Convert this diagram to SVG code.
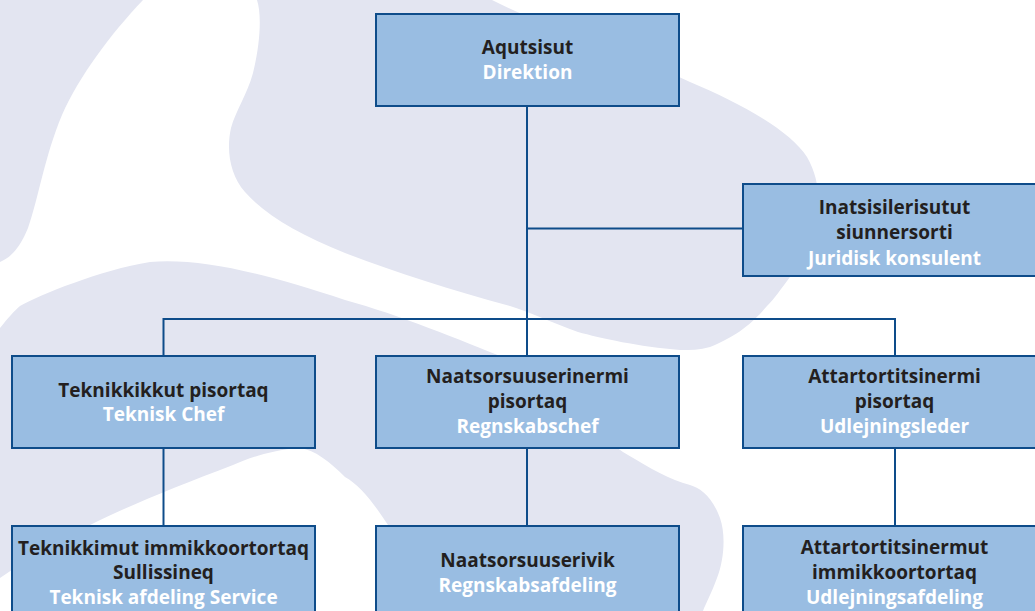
<svg xmlns="http://www.w3.org/2000/svg" width="1035" height="611" viewBox="0 0 1035 611">
<style>
.bg{fill:#e3e5f1;stroke:none}
.box{fill:#99bde2;stroke:#0e4c8a;stroke-width:2}
.ln{fill:none;stroke:#0e4c8a;stroke-width:2}
text{font-family:"Open Sans","Liberation Sans",sans-serif;font-weight:700;font-size:19px;text-anchor:middle}
.d{fill:#231f20}
.w{fill:#ffffff}
</style>
<rect width="1035" height="611" fill="#ffffff"/>
<g id="background">
<path class="bg" d="M0,0 H143 C110,35 80,75 62,115 C45,155 38,200 28,228 C20,248 10,258 0,262 Z"/>
<path class="bg" d="M257,0 H492 C540,25 620,50 690,82 C740,103 790,130 807,157 C820,180 820,200 815,230 C810,255 800,268 790,277 C780,290 775,298 767,306 C755,320 740,335 710,347 C700,350 690,350 680,350 C640,347 600,338 578,332 C550,322 530,312 510,306 C450,290 395,272 345,253 C300,235 265,215 245,192 C230,175 226,150 231,128 C236,110 247,95 253,73 C260,45 262,15 257,0 Z"/>
<path class="bg" d="M0,328 C8,318 14,311 20,306 C40,295 100,270 150,262 C200,258 260,272 345,300 C400,315 460,340 505,358 C540,375 560,400 578,415 C600,432 615,448 628,455 C650,468 670,480 690,485 C700,488 712,496 720,518 C726,535 724,560 717,578 C712,592 706,603 703,611 L430,611 C415,570 400,540 388,525 C375,505 360,485 345,477 C330,462 315,450 300,448 C270,450 250,458 233,465 C180,485 130,505 90,525 C55,545 25,560 0,578 Z"/>
</g>
<g id="connectors">
<path class="ln" d="M527,106 V356"/>
<path class="ln" d="M527,228.5 H743"/>
<path class="ln" d="M163.5,356 V319 H895 V356"/>
<path class="ln" d="M163.5,448 V526"/>
<path class="ln" d="M527,448 V526"/>
<path class="ln" d="M895,448 V526"/>
</g>
<g id="n-direktion">
<rect class="box" x="376" y="14" width="303" height="92"/>
<text x="527.5" y="53.5" class="d">Aqutsisut</text>
<text x="527.5" y="78.5" class="w">Direktion</text>
</g>
<g id="n-juridisk">
<rect class="box" x="743" y="184" width="303" height="92"/>
<text x="894.5" y="213.5" class="d">Inatsisilerisutut</text>
<text x="894.5" y="239" class="d">siunnersorti</text>
<text x="894.5" y="264.5" class="w">Juridisk konsulent</text>
</g>
<g id="n-teknisk-chef">
<rect class="box" x="12" y="356" width="303" height="92"/>
<text x="163.5" y="396.5" class="d">Teknikkikkut pisortaq</text>
<text x="163.5" y="420.5" class="w">Teknisk Chef</text>
</g>
<g id="n-regnskabschef">
<rect class="box" x="376" y="356" width="303" height="92"/>
<text x="527.5" y="382.5" class="d">Naatsorsuuserinermi</text>
<text x="527.5" y="408" class="d">pisortaq</text>
<text x="527.5" y="433.3" class="w">Regnskabschef</text>
</g>
<g id="n-udlejningsleder">
<rect class="box" x="743" y="356" width="303" height="92"/>
<text x="894.5" y="383" class="d">Attartortitsinermi</text>
<text x="894.5" y="408" class="d">pisortaq</text>
<text x="894.5" y="433.3" class="w">Udlejningsleder</text>
</g>
<g id="n-teknisk-afdeling">
<rect class="box" x="12" y="526" width="303" height="100"/>
<text x="163.5" y="555" class="d">Teknikkimut immikkoortortaq</text>
<text x="163.5" y="579" class="d">Sullissineq</text>
<text x="163.5" y="603.5" class="w">Teknisk afdeling Service</text>
</g>
<g id="n-regnskabsafdeling">
<rect class="box" x="376" y="526" width="303" height="100"/>
<text x="527.5" y="566.5" class="d">Naatsorsuuserivik</text>
<text x="527.5" y="592" class="w">Regnskabsafdeling</text>
</g>
<g id="n-udlejningsafdeling">
<rect class="box" x="743" y="526" width="303" height="100"/>
<text x="894.5" y="553.5" class="d">Attartortitsinermut</text>
<text x="894.5" y="579" class="d">immikkoortortaq</text>
<text x="894.5" y="603.5" class="w">Udlejningsafdeling</text>
</g>
</svg>
